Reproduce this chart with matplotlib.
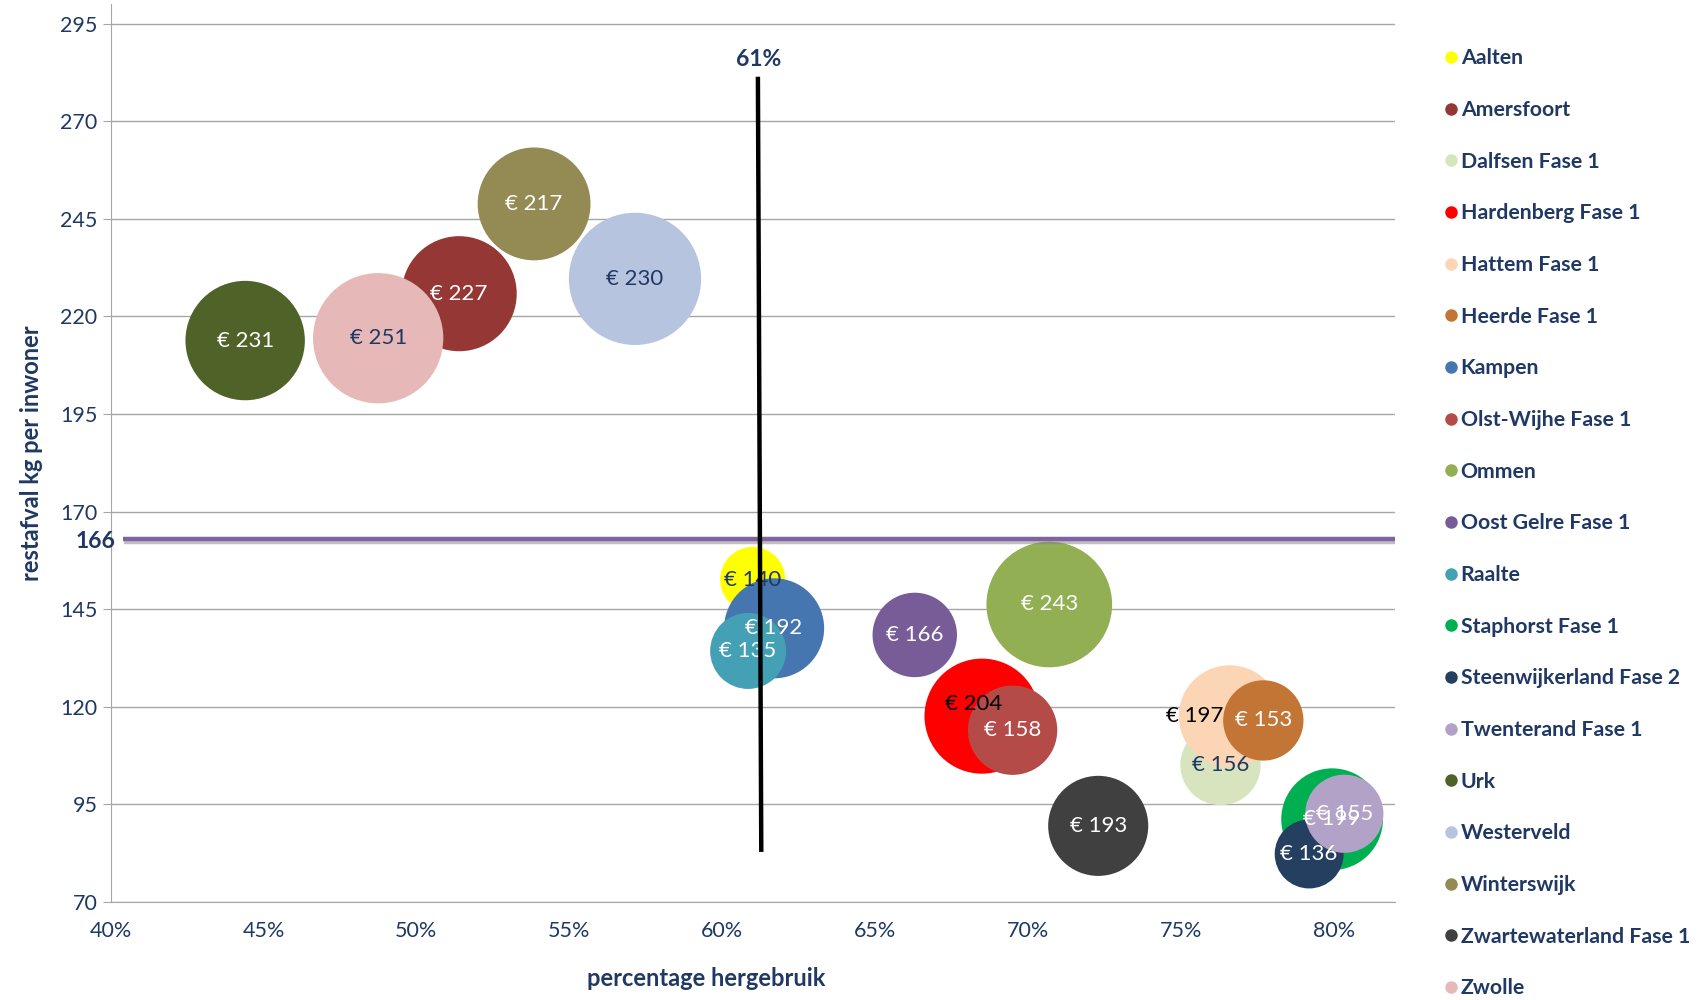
import matplotlib
matplotlib.use('Agg')
import numpy as np
import matplotlib.pyplot as plt
from matplotlib.lines import Line2D
import matplotlib.patheffects as pe

plt.rcParams['font.family'] = ['Lato', 'DejaVu Sans']

# gemeenten en waarden
gemeenten = ['Aalten', 'Amersfoort', 'Dalfsen Fase 1', 'Hardenberg Fase 1', 'Hattem Fase 1',
             'Heerde Fase 1', 'Kampen', 'Olst-Wijhe Fase 1', 'Ommen', 'Oost Gelre Fase 1',
             'Raalte', 'Staphorst Fase 1', 'Steenwijkerland Fase 2', 'Twenterand Fase 1',
             'Urk', 'Westerveld', 'Winterswijk', 'Zwartewaterland Fase 1', 'Zwolle']
hergebruik = [61.0, 51.4, 76.3, 68.5, 76.6, 77.7, 61.7, 69.5, 70.7, 66.3,
              60.85, 79.95, 79.2, 80.35, 44.4, 57.15, 53.85, 72.3, 48.75]
restafval = [152.6, 225.8, 105.1, 117.6, 117.6, 116.5, 140.1, 114.0, 146.2, 138.4,
             134.3, 91.2, 82.3, 92.6, 213.8, 229.6, 248.8, 89.5, 214.4]
kosten = [140, 227, 156, 204, 197, 153, 192, 158, 243, 166,
          135, 199, 136, 155, 231, 230, 217, 193, 251]
bubbel = [25, 78, 38, 78, 61, 38, 59, 47, 93, 42,
          34, 61, 28, 36, 84, 103, 75, 59, 100]

kleuren = ['#FFFF00', '#953735', '#D7E4BD', '#FF0000', '#FCD5B5', '#C27535', '#4676B0',
           '#B44B48', '#92AF53', '#775C98', '#44A0B5', '#00B050', '#243F60', '#B3A2C7',
           '#4F6228', '#B7C4DF', '#948A54', '#404040', '#E6B9B8']
navy = '#1F3864'
labelkleur = [navy, 'white', navy, 'black', 'black', 'white', 'white', 'white', 'white', 'white',
              'white', 'white', 'white', 'white', 'white', navy, 'white', 'white', navy]

gem_rest = 166
gem_herg = 61

fig = plt.figure(figsize=(17.02, 10), dpi=100)
ax = fig.add_axes([0.065, 0.098, 0.7545, 0.898])

for i in range(len(gemeenten)):
    ax.scatter(hergebruik[i], restafval[i], s=bubbel[i] * 88, color=kleuren[i],
               edgecolors='none', zorder=2 + i * 0.01)

for i in range(len(gemeenten)):
    dx, dy = 0, 0
    if gemeenten[i].startswith('Hattem'):
        dx = -25
    if gemeenten[i].startswith('Hardenberg'):
        dx, dy = -6, 9
    ax.annotate('€ ' + str(kosten[i]), (hergebruik[i], restafval[i]), xytext=(dx, dy),
                textcoords='offset points', ha='center', va='center',
                fontsize=16, color=labelkleur[i], zorder=4)

# referentielijnen
ax.plot([40.4, 82], [163, 163], color='#8064A2', lw=3.2, zorder=5, solid_capstyle='butt',
        path_effects=[pe.SimpleLineShadow(offset=(1, -2), shadow_color='gray', alpha=0.5),
                      pe.Normal()])
ax.plot([61.17, 61.28], [280.8, 83.4], color='black', lw=3.2, zorder=6)
ax.text(61.2, 285.8, str(gem_herg) + '%', ha='center', va='center', fontsize=16.5,
        fontweight='bold', color=navy)
ax.text(40.17, 162.3, str(gem_rest), ha='right', va='center', fontsize=16.5,
        fontweight='bold', color=navy, clip_on=False)

ax.set_xlim(40, 82)
ax.set_ylim(70, 300)
ax.set_xticks(np.arange(40, 81, 5))
ax.set_xticklabels([str(v) + '%' for v in range(40, 81, 5)])
ax.set_yticks(np.arange(70, 296, 25))
ax.yaxis.grid(True, color='#A6A6A6', lw=1)
ax.set_axisbelow(True)
for s in ['top', 'right']:
    ax.spines[s].set_visible(False)
ax.spines['left'].set_color('#A6A6A6')
ax.spines['bottom'].set_color('#A6A6A6')
ax.tick_params(axis='both', colors='#A6A6A6', labelcolor=navy, labelsize=15.5, length=6)
ax.tick_params(axis='x', length=0, pad=14)

ax.set_xlabel('percentage hergebruik', fontsize=17, fontweight='bold', color=navy)
ax.xaxis.set_label_coords(0.464, -0.072)
ax.set_ylabel('restafval kg per inwoner', fontsize=17, fontweight='bold', color=navy, labelpad=12)

handles = [Line2D([0], [0], marker='o', color='none', markerfacecolor=c, markeredgecolor='none',
                  markersize=9) for c in kleuren]
fig.legend(handles, gemeenten, loc='upper left', bbox_to_anchor=(0.842, 0.96), frameon=False,
           prop={'size': 15.3, 'weight': 'bold'}, labelcolor=navy, handletextpad=0.0,
           handlelength=0.9, labelspacing=1.49, borderaxespad=0)

fig.savefig('out.png', dpi=100)
